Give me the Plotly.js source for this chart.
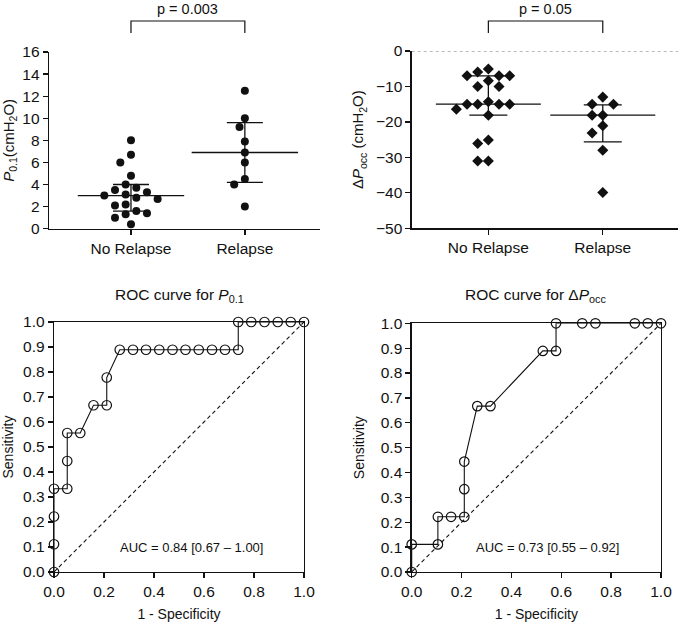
<!DOCTYPE html>
<html>
<head>
<meta charset="utf-8">
<script src="https://cdn.plot.ly/plotly-3.0.1.min.js"></script>
<style>
  html, body { margin: 0; padding: 0; background: #fff; }
  #chart { width: 680px; height: 624px; }
</style>
</head>
<body>
<div id="chart"></div>
<script>
const W = 680, H = 624;

// groups
const groups = ['No Relapse', 'Relapse'];

// P0.1 (cmH2O) per patient
const p01NoRelapse = [8.0, 6.7, 6.0, 4.8, 4.0, 3.7, 3.5, 3.3, 3.1, 3.0, 2.8, 2.7, 2.2, 2.1, 1.6, 1.4, 1.3, 1.0, 0.4];
const p01Relapse = [12.5, 10.0, 9.2, 7.9, 6.9, 6.0, 4.5, 4.0, 2.0];
const p01Median = [3.0, 6.9];
const p01Q1 = [1.6, 4.2];
const p01Q3 = [4.0, 9.6];
const p01P = 'p = 0.003';

// dPocc (cmH2O) per patient
const dpNoRelapse = [-5.1, -5.9, -7.0, -7.0, -7.0, -8.4, -10.0, -10.0, -14.3, -15.0, -15.0, -15.0, -15.0, -16.4, -18.1, -25.1, -26.1, -31.0, -31.0];
const dpRelapse = [-13.0, -15.0, -15.0, -18.1, -18.1, -21.1, -23.1, -28.0, -39.9];
const dpMedian = [-15.0, -18.1];
const dpQ1 = [-18.1, -25.6];
const dpQ3 = [-7.0, -15.2];
const dpP = 'p = 0.05';

// ROC curves (1 - specificity, sensitivity)
const rocP01Fpr = [0, 0, 0, 0, 0.053, 0.053, 0.053, 0.105, 0.158, 0.211, 0.211, 0.263, 0.316, 0.368, 0.421, 0.474, 0.526, 0.579, 0.632, 0.684, 0.737, 0.737, 0.789, 0.842, 0.895, 0.947, 1];
const rocP01Sens = [0, 0.111, 0.222, 0.333, 0.333, 0.444, 0.556, 0.556, 0.667, 0.667, 0.778, 0.889, 0.889, 0.889, 0.889, 0.889, 0.889, 0.889, 0.889, 0.889, 0.889, 1, 1, 1, 1, 1, 1];
const rocDpFpr = [0, 0, 0.105, 0.105, 0.158, 0.211, 0.211, 0.211, 0.263, 0.316, 0.526, 0.579, 0.579, 0.684, 0.737, 0.895, 0.947, 1];
const rocDpSens = [0, 0.111, 0.111, 0.222, 0.222, 0.222, 0.333, 0.444, 0.667, 0.667, 0.889, 0.889, 1, 1, 1, 1, 1, 1];
const aucP01 = 'AUC = 0.84 [0.67 – 1.00]';
const aucDp = 'AUC = 0.73 [0.55 – 0.92]';

// panel boxes in pixels: [left, right, top, bottom]
const boxTL = [49, 320, 52, 228.7];
const boxTR = [411.7, 678.3, 51, 228.3];
const boxBL = [54, 304, 322, 572];
const boxBR = [411.7, 661, 323.3, 572];
const rangeTL = { x: [-0.72, 1.66], y: [0, 16] };
const rangeTR = { x: [-0.67, 1.66], y: [-50, 0] };

const xdom = b => [b[0] / W, b[1] / W];
const ydom = b => [1 - b[3] / H, 1 - b[2] / H];

// simple beeswarm so dots with close values sit side by side
function swarm(vals, box, range, dmin, step) {
  const xPx = (box[1] - box[0]) / (range.x[1] - range.x[0]);
  const yPx = (box[3] - box[2]) / (range.y[1] - range.y[0]);
  const order = vals.map((v, i) => i).sort((a, b) => vals[b] - vals[a]);
  const placed = [];
  const out = new Array(vals.length);
  order.forEach(i => {
    const y = vals[i] * yPx;
    for (let k = 0; k < 50; k++) {
      const cands = k === 0 ? [0] : [-k, k];
      const hit = cands.find(c => placed.every(p => Math.hypot(p.dx - c * step, p.y - y) >= dmin));
      if (hit !== undefined) {
        placed.push({ dx: hit * step, y });
        out[i] = hit * step / xPx;
        break;
      }
    }
  });
  return out;
}

const black = '#111';
const family = '"Liberation Sans", Arial, sans-serif';
const font = { family, size: 14, color: black };
const tickFont = { family, size: 15.5, color: black };
const headFont = { family, size: 15.5, color: black };

const dots = (vals, gi, box, range, symbol, size, xa, ya) => {
  const off = swarm(vals, box, range, size + 1.6, 5.33);
  return {
    x: vals.map((v, i) => gi + off[i]), y: vals,
    xaxis: xa, yaxis: ya, type: 'scatter', mode: 'markers', cliponaxis: false,
    marker: { symbol, size, color: black }, hoverinfo: 'y'
  };
};

const medianBars = (med, q1, q3, xa, ya, len, cap) => ({
  x: groups.map((g, i) => i), y: med,
  xaxis: xa, yaxis: ya, type: 'scatter', mode: 'markers', cliponaxis: false,
  marker: { symbol: 'line-ew-open', size: len, color: black, line: { color: black, width: 1.3 } },
  error_y: {
    type: 'data', symmetric: false,
    array: q3.map((v, i) => v - med[i]),
    arrayminus: med.map((v, i) => v - q1[i]),
    width: cap, thickness: 1.3, color: black
  },
  hoverinfo: 'y'
});

const rocTrace = (fpr, sens, xa, ya) => ({
  x: fpr, y: sens, xaxis: xa, yaxis: ya, type: 'scatter', mode: 'lines+markers', cliponaxis: false,
  line: { color: black, width: 1.1 },
  marker: { symbol: 'circle-open', size: 9.5, color: black, line: { width: 1.2 } }
});

const chance = (xa, ya) => ({
  x: [0, 1], y: [0, 1], xaxis: xa, yaxis: ya, type: 'scatter', mode: 'lines',
  line: { color: black, width: 1.1, dash: '4px,3px' }, hoverinfo: 'skip'
});

const data = [
  dots(p01NoRelapse, 0, boxTL, rangeTL, 'circle', 8, 'x', 'y'),
  dots(p01Relapse, 1, boxTL, rangeTL, 'circle', 8, 'x', 'y'),
  medianBars(p01Median, p01Q1, p01Q3, 'x', 'y', 76, 18),
  dots(dpNoRelapse, 0, boxTR, rangeTR, 'diamond', 8.5, 'x2', 'y2'),
  dots(dpRelapse, 1, boxTR, rangeTR, 'diamond', 8.5, 'x2', 'y2'),
  medianBars(dpMedian, dpQ1, dpQ3, 'x2', 'y2', 75, 19),
  chance('x3', 'y3'),
  rocTrace(rocP01Fpr, rocP01Sens, 'x3', 'y3'),
  chance('x4', 'y4'),
  rocTrace(rocDpFpr, rocDpSens, 'x4', 'y4')
];

const axisBase = {
  showline: true, linecolor: black, linewidth: 1.3,
  ticks: 'outside', ticklen: 5, tickwidth: 1.3, tickcolor: black,
  showgrid: false, zeroline: false, fixedrange: true, tickfont: tickFont
};

const catAxis = (box, range, anchor) => Object.assign({}, axisBase, {
  domain: xdom(box), range: range.x, anchor,
  tickvals: groups.map((g, i) => i), ticktext: groups
});

const rocX = (box, anchor) => Object.assign({}, axisBase, {
  domain: xdom(box), range: [0, 1], anchor, mirror: true, dtick: 0.2, tickformat: '.1f',
  title: { text: '1 - Specificity', font, standoff: 10 }
});
const rocY = (box, anchor, standoff) => Object.assign({}, axisBase, {
  domain: ydom(box), range: [0, 1], anchor, mirror: true, dtick: 0.1, tickformat: '.1f',
  title: { text: 'Sensitivity', font, standoff }
});

const bracket = (xa, text) => {
  const top = 1 - 21 / H, bot = 1 - 33 / H;
  const a = 0, b = groups.length - 1;
  return {
    shape: {
      type: 'path', xref: xa, yref: 'paper',
      path: `M ${a},${bot} L ${a},${top} L ${b},${top} L ${b},${bot}`,
      line: { color: black, width: 1.2 }
    },
    note: {
      xref: xa, yref: 'paper', x: (a + b) / 2, y: 1 - 9 / H, text, showarrow: false,
      xanchor: 'center', yanchor: 'middle', font: Object.assign({}, font, { size: 14.5 })
    }
  };
};

const brTL = bracket('x', p01P);
const brTR = bracket('x2', dpP);

const layout = {
  width: W, height: H,
  margin: { l: 0, r: 0, t: 0, b: 0 },
  paper_bgcolor: '#fff', plot_bgcolor: '#fff',
  showlegend: false, font,
  xaxis: catAxis(boxTL, rangeTL, 'y'),
  yaxis: Object.assign({}, axisBase, {
    domain: ydom(boxTL), range: rangeTL.y, anchor: 'x', dtick: 2,
    title: { text: '<i>P</i><sub>0.1</sub>(cmH<sub>2</sub>O)', font: Object.assign({}, font, { size: 15 }), standoff: 8 }
  }),
  xaxis2: catAxis(boxTR, rangeTR, 'y2'),
  yaxis2: Object.assign({}, axisBase, {
    domain: ydom(boxTR), range: rangeTR.y, anchor: 'x2', dtick: 10,
    title: { text: 'Δ<i>P</i><sub>occ</sub> (cmH<sub>2</sub>O)', font: Object.assign({}, font, { size: 15 }), standoff: 8 }
  }),
  xaxis3: rocX(boxBL, 'y3'),
  yaxis3: rocY(boxBL, 'x3', 8),
  xaxis4: rocX(boxBR, 'y4'),
  yaxis4: rocY(boxBR, 'x4', 12),
  shapes: [
    brTL.shape, brTR.shape,
    { type: 'line', xref: 'x2 domain', yref: 'y2', x0: 0, x1: 1, y0: 0, y1: 0,
      line: { color: '#777', width: 1.2, dash: 'dot' } }
  ],
  annotations: [
    brTL.note, brTR.note,
    { xref: 'x3 domain', yref: 'paper', x: 0.5, y: 1 - 295 / H, text: 'ROC curve for <i>P</i><sub>0.1</sub>',
      showarrow: false, xanchor: 'center', yanchor: 'middle', font: headFont },
    { xref: 'x4 domain', yref: 'paper', x: 0.5, y: 1 - 295 / H, text: 'ROC curve for Δ<i>P</i><sub>occ</sub>',
      showarrow: false, xanchor: 'center', yanchor: 'middle', font: headFont },
    { xref: 'x3', yref: 'y3', x: 0.55, y: 0.1, text: aucP01, showarrow: false,
      xanchor: 'center', yanchor: 'middle', font: Object.assign({}, font, { size: 13 }) },
    { xref: 'x4', yref: 'y4', x: 0.545, y: 0.1, text: aucDp, showarrow: false,
      xanchor: 'center', yanchor: 'middle', font: Object.assign({}, font, { size: 13 }) }
  ]
};

Plotly.newPlot('chart', data, layout, { displayModeBar: false, staticPlot: true });
</script>
</body>
</html>
